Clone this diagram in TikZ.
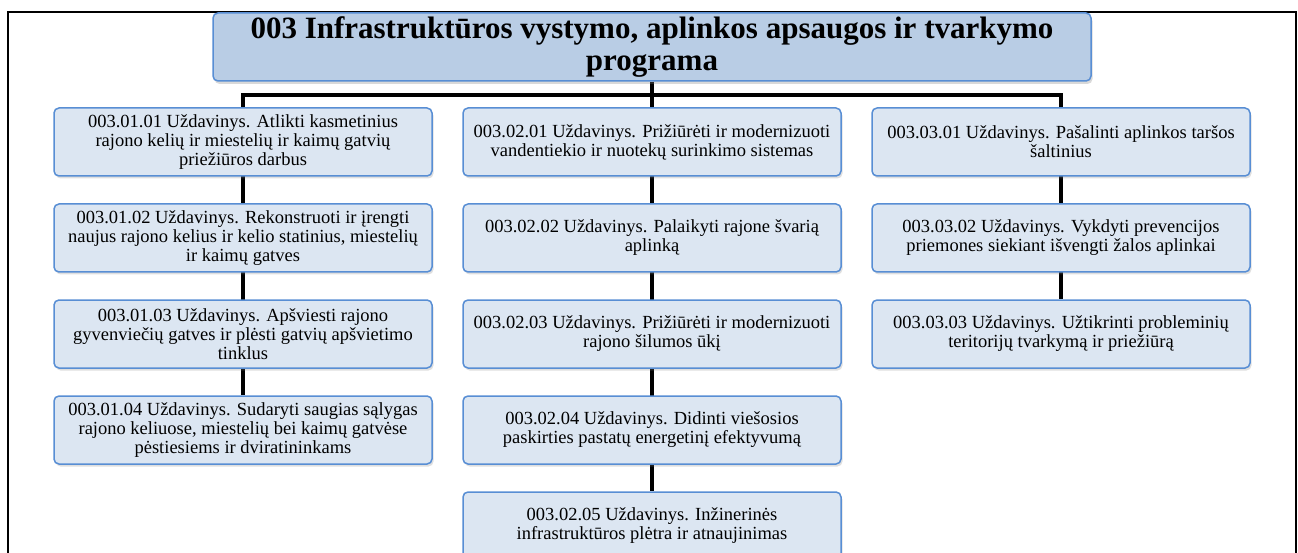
\documentclass[tikz,border=0pt]{standalone}
\usepackage{fontspec}
\setmainfont{Liberation Serif}
\usetikzlibrary{shadows,backgrounds}

\definecolor{headfill}{RGB}{185,205,229}
\definecolor{taskfill}{RGB}{220,230,242}
\definecolor{taskline}{RGB}{88,142,212}

\begin{document}
\begin{tikzpicture}[
  x=1pt, y=-1pt,
  headbox/.style={rectangle, rounded corners=5pt, draw=taskline, line width=1.5pt,
    fill=headfill, minimum width=878pt, minimum height=68pt, inner sep=1pt,
    align=center, font=\fontsize{31}{32}\selectfont\bfseries,
    drop shadow={shadow xshift=1.5pt, shadow yshift=-3pt, opacity=0.3}},
  task/.style={rectangle, rounded corners=5pt, draw=taskline, line width=1.5pt,
    fill=taskfill, minimum width=378pt, minimum height=68pt, inner sep=2pt,
    align=center, font=\fontsize{18.5}{19}\selectfont,
    drop shadow={shadow xshift=1.5pt, shadow yshift=-2.5pt, opacity=0.25}},
  link/.style={line width=4pt},
  border line/.style={line width=1.5pt}
]
\useasboundingbox (0,0) rectangle (1298,553);
\clip (0,0) rectangle (1298,553);

\draw[border line] (8,600) -- (8,12) -- (1296,12) -- (1296,600);

\node[headbox] (head) at (652,47) {003 Infrastruktūros vystymo, aplinkos apsaugos ir tvarkymo\\programa};

% first column
\node[task] (t11) at (243,142) {003.01.01 Uždavinys. Atlikti kasmetinius\\rajono kelių ir miestelių ir kaimų gatvių\\priežiūros darbus};
\node[task] (t12) at (243,238) {003.01.02 Uždavinys. Rekonstruoti ir įrengti\\naujus rajono kelius ir kelio statinius, miestelių\\ir kaimų gatves};
\node[task] (t13) at (243,334) {003.01.03 Uždavinys. Apšviesti rajono\\gyvenviečių gatves ir plėsti gatvių apšvietimo\\tinklus};
\node[task] (t14) at (243,430) {003.01.04 Uždavinys. Sudaryti saugias sąlygas\\rajono keliuose, miestelių bei kaimų gatvėse\\pėstiesiems ir dviratininkams};

% second column
\node[task] (t21) at (652,142) {003.02.01 Uždavinys. Prižiūrėti ir modernizuoti\\vandentiekio ir nuotekų surinkimo sistemas};
\node[task] (t22) at (652,238) {003.02.02 Uždavinys. Palaikyti rajone švarią\\aplinką};
\node[task] (t23) at (652,334) {003.02.03 Uždavinys. Prižiūrėti ir modernizuoti\\rajono šilumos ūkį};
\node[task] (t24) at (652,430) {003.02.04 Uždavinys. Didinti viešosios\\paskirties pastatų energetinį efektyvumą};
\node[task] (t25) at (652,526) {003.02.05 Uždavinys. Inžinerinės\\infrastruktūros plėtra ir atnaujinimas};

% third column
\node[task] (t31) at (1061,142) {003.03.01 Uždavinys. Pašalinti aplinkos taršos\\šaltinius};
\node[task] (t32) at (1061,238) {003.03.02 Uždavinys. Vykdyti prevencijos\\priemones siekiant išvengti žalos aplinkai};
\node[task] (t33) at (1061,334) {003.03.03 Uždavinys. Užtikrinti probleminių\\teritorijų tvarkymą ir priežiūrą};

\coordinate (busL) at (243,95);
\coordinate (busR) at (1061,95);
\begin{scope}[on background layer]
  \draw[link] (t14.north) -- (busL) -- (busR) -- (t33.north);
  \draw[link] (head.south) -- (t25.north);
\end{scope}
\end{tikzpicture}
\end{document}
